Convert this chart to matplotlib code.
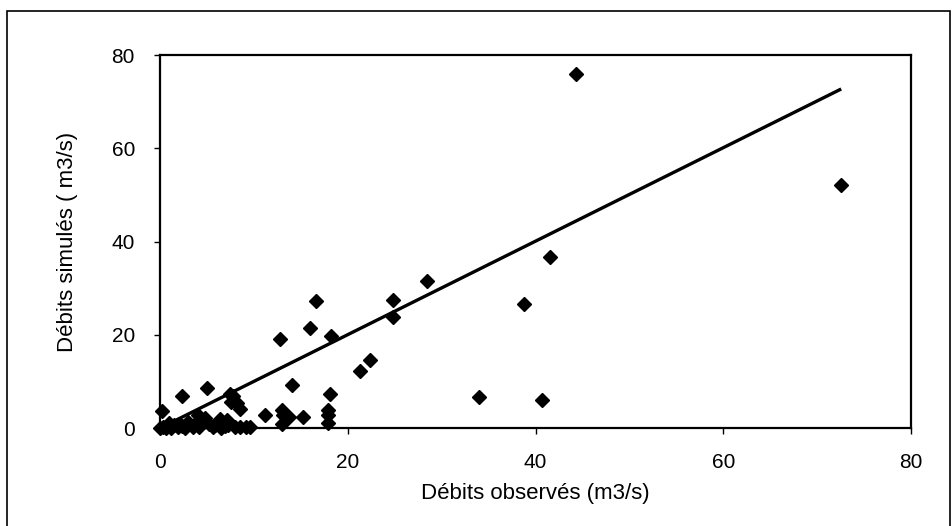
import matplotlib.pyplot as plt
from matplotlib.patches import Rectangle

plt.rcParams['font.family'] = ['Liberation Sans', 'DejaVu Sans']

# Datos : debits observes / simules (m3/s)
obs = [44.3, 72.5, 41.5, 38.8, 28.4, 24.8, 24.8, 16.6, 16.0, 18.2, 12.8,
       22.4, 21.3, 14.1, 18.1, 34.0, 40.7, 11.2, 13.0, 13.1, 13.7, 15.2,
       13.0, 17.9, 17.9, 17.9, 9.6, 9.2, 8.5, 8.0,
       0.2, 2.3, 5.0, 7.6, 8.2, 8.5, 7.8, 7.5, 7.1, 4.8, 4.1, 5.9, 6.4,
       0.0, 0.3, 0.6, 0.9, 1.2, 1.5, 1.9, 2.3, 2.7, 3.1, 3.5, 3.8, 4.2,
       4.5, 5.2, 5.6, 6.0, 6.5, 6.9, 7.3, 1.0, 2.0, 3.0]
sim = [75.9, 52.1, 36.8, 26.6, 31.5, 27.5, 23.9, 27.3, 21.4, 19.7, 19.1,
       14.6, 12.2, 9.2, 7.4, 6.6, 6.0, 2.9, 3.9, 2.8, 2.4, 2.4,
       1.0, 3.9, 2.8, 1.1, 0.3, 0.3, 0.2, 0.2,
       3.6, 7.0, 8.7, 5.6, 5.3, 4.2, 6.8, 7.4, 1.7, 2.1, 2.8, 0.6, 1.9,
       0.0, 0.2, 0.1, 0.4, 0.1, 0.6, 0.2, 0.5, 0.1, 0.8, 0.3, 1.2, 0.2,
       1.8, 1.0, 0.3, 0.8, 0.1, 0.4, 0.6, 1.2, 1.0, 1.4]

# droite 1:1
ligne_x = [0, 72.4]
ligne_y = [0, 72.6]

fig = plt.figure(figsize=(9.52, 5.26), dpi=100)
ax = fig.add_axes([0.168, 0.186, 0.789, 0.709])

ax.plot(ligne_x, ligne_y, color='black', lw=2.4, zorder=2)
ax.plot(obs, sim, linestyle='none', marker='D', markersize=7,
        color='black', clip_on=False, zorder=3)

ax.set_xlim(0, 80)
ax.set_ylim(0, 80)
ax.set_xticks([0, 20, 40, 60, 80])
ax.set_yticks([0, 20, 40, 60, 80])
ax.tick_params(direction='out', length=4, width=1, pad=14, labelsize=15)
for s in ax.spines.values():
    s.set_linewidth(1.6)

ax.set_xlabel('Débits observés (m3/s)', fontsize=16, labelpad=8)
ax.set_ylabel('Débits simulés ( m3/s)', fontsize=16, labelpad=24)

# cadre autour du graphique
cadre = Rectangle((0.007, -0.05), 0.991, 1.03, transform=fig.transFigure,
                  fill=False, edgecolor='black', lw=1.2)
fig.patches.append(cadre)

fig.savefig('out.png', dpi=100)
